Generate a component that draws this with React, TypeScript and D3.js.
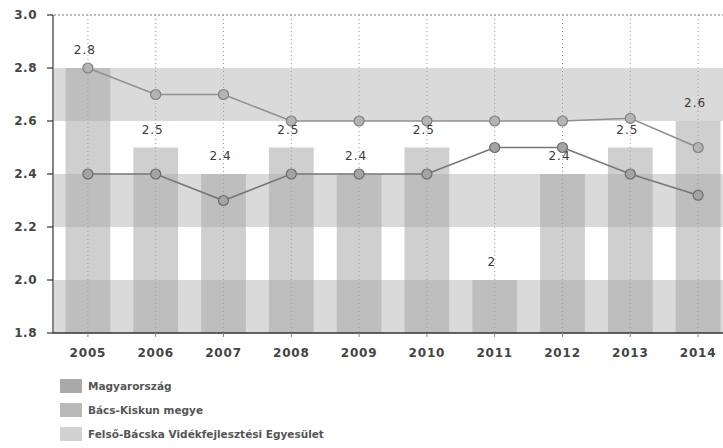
import React from "react";
import * as d3 from "d3";

const years = ["2005", "2006", "2007", "2008", "2009", "2010", "2011", "2012", "2013", "2014"];
const barValues = [2.8, 2.5, 2.4, 2.5, 2.4, 2.5, 2.0, 2.4, 2.5, 2.6];
const lineA = [2.8, 2.7, 2.7, 2.6, 2.6, 2.6, 2.6, 2.6, 2.61, 2.5];
const lineB = [2.4, 2.4, 2.3, 2.4, 2.4, 2.4, 2.5, 2.5, 2.4, 2.32];
const yTicks = [1.8, 2.0, 2.2, 2.4, 2.6, 2.8, 3.0];
const bandRanges = [[1.8, 2.0], [2.2, 2.4], [2.6, 2.8]];
const legendItems = ["Magyarország", "Bács-Kiskun megye", "Felső-Bácska Vidékfejlesztési Egyesület"];
const legendFills = ["#a9a9a9", "#b9b9b9", "#d2d2d2"];

const W = 723;
const H = 448;
const left = 54;
const right = 732;
const top = 15;
const bottom = 333;

export default function App() {
  const x = d3.scalePoint<string>().domain(years).range([left, right]).padding(0.5);
  const step = x.step();
  const bw = step * 0.66;
  const y = d3.scaleLinear().domain([1.8, 3.0]).range([bottom, top]);
  const line = d3
    .line<number>()
    .x((_, i) => x(years[i]) as number)
    .y((d) => y(d));
  const font = "'DejaVu Sans', Verdana, sans-serif";

  return (
    <svg width={W} height={H} style={{ position: "absolute", left: 0, top: 0, background: "#fff" }} fontFamily={font}>
      {bandRanges.map(([a, b], i) => (
        <rect key={"b" + i} x={left} y={y(b)} width={W - left} height={y(a) - y(b)} fill="#dadada" />
      ))}
      <line x1={left} x2={W} y1={y(3.0)} y2={y(3.0)} stroke="#777" strokeDasharray="2,2" />
      {years.map((yr) => (
        <line key={"g" + yr} x1={x(yr)} x2={x(yr)} y1={top} y2={bottom} stroke="#999" strokeDasharray="1,3" />
      ))}
      {barValues.map((v, i) => (
        <rect
          key={"r" + i}
          x={(x(years[i]) as number) - bw / 2}
          y={y(v)}
          width={bw}
          height={bottom - y(v)}
          fill="#a8a8a8"
          fillOpacity={0.55}
        />
      ))}
      <path d={line(lineA) || ""} fill="none" stroke="#909090" strokeWidth={1.5} />
      <path d={line(lineB) || ""} fill="none" stroke="#777" strokeWidth={1.7} />
      {lineA.map((v, i) => (
        <circle key={"ma" + i} cx={x(years[i])} cy={y(v)} r={5} fill="#b4b4b4" stroke="#808080" strokeWidth={1.2} />
      ))}
      {lineB.map((v, i) => (
        <circle key={"mb" + i} cx={x(years[i])} cy={y(v)} r={5} fill="#a4a4a4" stroke="#6c6c6c" strokeWidth={1.2} />
      ))}
      {barValues.map((v, i) => (
        <text
          key={"l" + i}
          x={(x(years[i]) as number) - 3}
          y={y(v) - 14}
          textAnchor="middle"
          fontSize={12}
          fill="#3a3a3a"
          letterSpacing={1}
        >
          {String(v)}
        </text>
      ))}
      <line x1={left - 1} x2={left - 1} y1={top} y2={bottom} stroke="#333" strokeWidth={1.2} />
      <line x1={left - 1} x2={W} y1={bottom} y2={bottom} stroke="#333" strokeWidth={1.5} />
      {yTicks.map((t) => (
        <g key={"yt" + t}>
          <line x1={left - 7} x2={left - 1} y1={y(t)} y2={y(t)} stroke="#333" strokeWidth={1.2} />
          <text x={37} y={y(t) + 4} textAnchor="end" fontSize={12} fontWeight="bold" fill="#444" letterSpacing={0.5}>
            {t.toFixed(1)}
          </text>
        </g>
      ))}
      {years.map((yr) => (
        <g key={"xt" + yr}>
          <line x1={x(yr)} x2={x(yr)} y1={bottom} y2={bottom + 4} stroke="#888" />
          <text x={x(yr)} y={bottom + 24} textAnchor="middle" fontSize={12} fontWeight="bold" fill="#444" letterSpacing={0.8}>
            {yr}
          </text>
        </g>
      ))}
      {legendItems.map((name, i) => (
        <g key={"lg" + i} transform={`translate(60, ${379 + i * 24})`}>
          <rect x={0} y={0} width={22} height={14} fill={legendFills[i]} />
          <text x={28} y={11} fontSize={10.5} fontWeight="bold" fill="#555">
            {name}
          </text>
        </g>
      ))}
    </svg>
  );
}
